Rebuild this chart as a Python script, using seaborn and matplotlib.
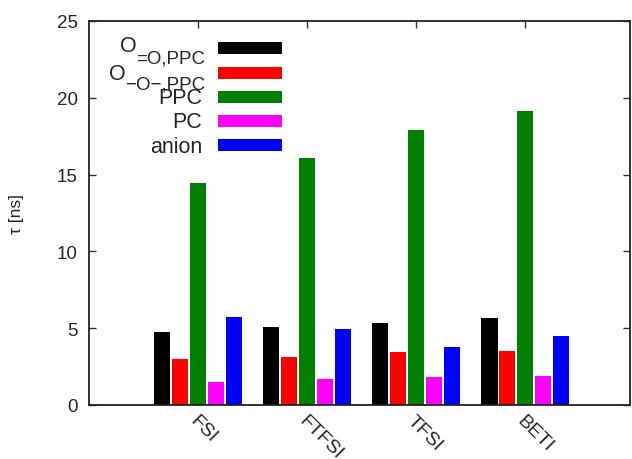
import matplotlib
matplotlib.use("Agg")
import matplotlib.pyplot as plt
import seaborn as sns
import pandas as pd
from matplotlib.patches import Rectangle

categories = ["FSI", "FTFSI", "TFSI", "BETI"]
series_names = ["O_eq", "O_ether", "PPC", "PC", "anion"]
# legend labels: (main text, subscript text)
series_labels = [("O", "=O,PPC"), ("O", "−O−,PPC"), ("PPC", ""), ("PC", ""), ("anion", "")]
o_eq = [4.75, 5.08, 5.34, 5.66]
o_ether = [3.0, 3.1, 3.45, 3.5]
ppc = [14.45, 16.05, 17.9, 19.15]
pc = [1.5, 1.7, 1.82, 1.88]
anion = [5.73, 4.95, 3.78, 4.49]
colors = ["#000000", "#ff0000", "#008000", "#ff00ff", "#0000ff"]

values = [o_eq, o_ether, ppc, pc, anion]
rows = []
for name, vals in zip(series_names, values):
    for c, v in zip(categories, vals):
        rows.append({"cat": c, "series": name, "tau": v})
df = pd.DataFrame(rows)

sns.set_style("ticks")
plt.rcParams["font.family"] = ["Liberation Sans", "DejaVu Sans"]

W, H = 632, 460
fig = plt.figure(figsize=(W/100, H/100), dpi=100)
ax = fig.add_axes([89/W, 54/H, 541/W, 384/H])

sns.barplot(data=df, x="cat", y="tau", hue="series", hue_order=series_names,
            order=categories, palette=colors, width=0.82, gap=0.1,
            saturation=1, legend=False, ax=ax, errorbar=None, linewidth=0)

ax.set_xlim(-1.0, 3.96)
ax.set_ylim(0, 25)
ax.set_yticks([0, 5, 10, 15, 20, 25])
ax.set_xlabel("")
ax.set_ylabel("τ [ns]", fontsize=12.5, labelpad=24)
for s in ax.spines.values():
    s.set_linewidth(1.3)
    s.set_color("#222222")
ax.tick_params(axis="both", direction="in", top=True, right=True, length=5,
               width=1.0, color="#333333")
ax.tick_params(axis="y", pad=8, labelsize=13.5)
ax.tick_params(axis="x", pad=5, labelsize=14)
for t in ax.get_xticklabels():
    t.set_rotation(-45)
    t.set_ha("left")
    t.set_va("top")
    t.set_rotation_mode("anchor")

def fx(x):
    return x / W
def fy(y):
    return 1 - y / H

# legend drawn manually (pixel positions measured from top-left)
sw_x0, sw_x1, sw_h = 218, 282, 12
sw_centers = [49, 73.5, 98, 122, 146]
main_baselines = [52, 80, 104, 128.5, 153]
sub_baselines = [63, 89.5, None, None, None]
text_right = [205, 205, 202, 202, 202]
fs_main = 15.5
fs_sub = 13.5

fig.canvas.draw()
renderer = fig.canvas.get_renderer()
for (main, sub), col, yc, bm, bs, xr in zip(series_labels, colors, sw_centers,
                                          main_baselines, sub_baselines, text_right):
    fig.add_artist(Rectangle((fx(sw_x0), fy(yc + sw_h/2)), (sw_x1 - sw_x0)/W, sw_h/H,
                             transform=fig.transFigure, facecolor=col, edgecolor="none"))
    if sub:
        ts = fig.text(fx(xr), fy(bs), sub, ha="right", va="baseline", fontsize=fs_sub)
        bb = ts.get_window_extent(renderer)
        fig.text((bb.x0 + 0.5) / W, fy(bm), main, ha="right", va="baseline", fontsize=fs_main)
    else:
        fig.text(fx(xr), fy(bm), main, ha="right", va="baseline", fontsize=fs_main)

fig.savefig("out.png", dpi=100)
